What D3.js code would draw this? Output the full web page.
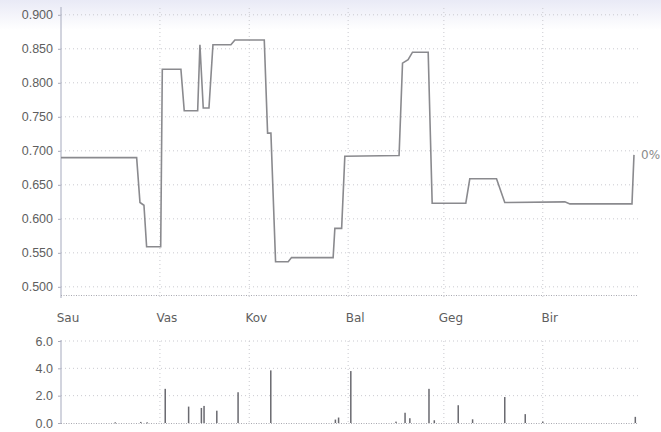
<!DOCTYPE html>
<html>
<head>
<meta charset="utf-8">
<script src="https://cdn.jsdelivr.net/npm/d3@7"></script>
<style>
  body { margin: 0; background: #fff; }
  svg { display: block; font-family: "DejaVu Sans", sans-serif; }
</style>
</head>
<body>
<div id="chart"></div>
<script>
// price line, breakpoints (date + hour)
var priceDates = ["2005-01-01 00","2005-01-24 17","2005-01-25 18","2005-01-27 00","2005-01-27 20","2005-02-01 06",
    "2005-02-01 18","2005-02-07 14","2005-02-08 15","2005-02-12 20","2005-02-13 13","2005-02-14 14",
    "2005-02-16 09","2005-02-17 15","2005-02-23 06","2005-02-24 12","2005-03-05 17","2005-03-06 18",
    "2005-03-07 19","2005-03-09 06","2005-03-13 05","2005-03-14 06","2005-03-27 07","2005-03-27 20",
    "2005-03-29 23","2005-03-30 23","2005-04-16 23","2005-04-18 01","2005-04-19 19","2005-04-21 04",
    "2005-04-26 02","2005-04-27 08","2005-05-07 21","2005-05-09 03","2005-05-17 12","2005-05-20 02",
    "2005-06-07 22","2005-06-09 12","2005-06-28 23","2005-06-29 14"];
var priceValues = [0.690,0.690,0.624,0.620,0.559,0.559,
    0.820,0.820,0.759,0.759,0.856,0.763,
    0.763,0.856,0.856,0.863,0.863,0.726,
    0.726,0.537,0.537,0.543,0.543,0.586,
    0.586,0.692,0.693,0.829,0.834,0.845,
    0.845,0.623,0.623,0.659,0.659,0.624,
    0.625,0.622,0.622,0.694];

// volume bars
var volDates = ["2005-01-18 00","2005-01-26 00","2005-01-28 00","2005-02-02 16","2005-02-10 00","2005-02-14 00",
    "2005-02-14 20","2005-02-18 20","2005-02-25 12","2005-03-07 18","2005-03-28 00","2005-03-29 00",
    "2005-04-01 20","2005-04-16 00","2005-04-18 20","2005-04-20 08","2005-04-26 08","2005-04-28 00",
    "2005-05-05 12","2005-05-10 00","2005-05-20 02","2005-05-26 12","2005-06-01 00","2005-06-30 00"];
var volValues = [0.05,0.08,0.05,2.5,1.2,1.1,
    1.25,0.9,2.25,3.85,0.25,0.4,
    3.8,0.1,0.75,0.35,2.5,0.2,
    1.3,0.27,1.9,0.65,0.1,0.45];

var monthLabels = ["Sau","Vas","Kov","Bal","Geg","Bir"];
var priceTicks = [0.5,0.55,0.6,0.65,0.7,0.75,0.8,0.85,0.9];
var volTicks = [0,2,4,6];
var changeLabel = "0%";

var W = 661, H = 432;
var parse = d3.timeParse("%Y-%m-%d %H");

var svg = d3.select("#chart").append("svg")
    .attr("width", W)
    .attr("height", H);

// faint scan tint at the top
var grad = svg.append("defs").append("linearGradient")
    .attr("id", "tint").attr("x1", 0).attr("y1", 0).attr("x2", 0).attr("y2", 1);
grad.append("stop").attr("offset", "0%").attr("stop-color", "#e9eaf6");
grad.append("stop").attr("offset", "100%").attr("stop-color", "#ffffff");
svg.append("rect").attr("width", W).attr("height", 30).attr("fill", "url(#tint)");

var x = d3.scaleTime()
    .domain([parse("2005-01-01 00"), parse("2005-07-01 00")])
    .range([61, 638.5]);
var monthTicks = d3.timeMonth.range(parse("2005-01-01 00"), parse("2005-07-01 00"));

var yP = d3.scaleLinear().domain([0.488, 0.910]).range([295, 8]);
var yV = d3.scaleLinear().domain([0, 6]).range([423, 341]);

var gridColor = "#c9c9cf";
var textColor = "#5e5e5e";

function grid(scale, ticks, y0, y1) {
    // horizontal dotted lines
    svg.append("g").selectAll("line")
        .data(ticks).enter().append("line")
        .attr("x1", 61).attr("x2", 638)
        .attr("y1", function(d) { return scale(d); })
        .attr("y2", function(d) { return scale(d); })
        .attr("stroke", gridColor)
        .attr("stroke-dasharray", "1,3");
    // vertical dotted lines at month starts
    svg.append("g").selectAll("line")
        .data(monthTicks.slice(1)).enter().append("line")
        .attr("x1", function(d) { return x(d); })
        .attr("x2", function(d) { return x(d); })
        .attr("y1", y0).attr("y2", y1)
        .attr("stroke", gridColor)
        .attr("stroke-dasharray", "1,3");
}

grid(yP, priceTicks, 8, 298);
grid(yV, volTicks.slice(1), 341, 423);

// y axes
function yAxis(scale, ticks, fmt, top, bottom) {
    var g = svg.append("g")
        .attr("transform", "translate(61,0)")
        .call(d3.axisLeft(scale).tickValues(ticks).tickFormat(d3.format(fmt)).tickSize(3).tickPadding(5));
    g.select(".domain").remove();
    g.selectAll(".tick line").attr("stroke", "#aaaab8");
    g.selectAll(".tick text").attr("fill", textColor).style("font-size", "12.5px");
    svg.append("line")
        .attr("x1", 61).attr("x2", 61)
        .attr("y1", top).attr("y2", bottom)
        .attr("stroke", "#b4b7c8")
        .attr("stroke-width", 1.2);
}
yAxis(yP, priceTicks, ".3f", 7, 298);
yAxis(yV, volTicks, ".1f", 340, 424);

// dotted baselines of both panels
[295.5, 423.5].forEach(function(yy) {
    svg.append("line")
        .attr("x1", 61).attr("x2", 638)
        .attr("y1", yy).attr("y2", yy)
        .attr("stroke", "#a8a8b0")
        .attr("stroke-dasharray", "1,1.5");
});

svg.append("g").selectAll("text")
    .data(monthTicks).enter().append("text")
    .attr("x", function(d) { return x(d) + 7; })
    .attr("y", 322)
    .attr("text-anchor", "middle")
    .attr("fill", textColor)
    .style("font-size", "12px")
    .text(function(d, i) { return monthLabels[i]; });

// price line
var priceData = priceDates.map(function(d, i) { return { date: parse(d), value: priceValues[i] }; });
var line = d3.line()
    .x(function(d) { return x(d.date); })
    .y(function(d) { return yP(d.value); });
svg.append("path")
    .datum(priceData)
    .attr("d", line)
    .attr("fill", "none")
    .attr("stroke", "#8a8a8e")
    .attr("stroke-width", 1.6);

svg.append("text")
    .attr("x", 641)
    .attr("y", 159)
    .attr("fill", "#8a8a8a")
    .style("font-size", "12px")
    .text(changeLabel);

// volume bars
var volData = volDates.map(function(d, i) { return { date: parse(d), value: volValues[i] }; });
svg.append("g").selectAll("rect")
    .data(volData).enter().append("rect")
    .attr("x", function(d) { return x(d.date) - 0.75; })
    .attr("width", 1.5)
    .attr("y", function(d) { return yV(d.value); })
    .attr("height", function(d) { return Math.max(1, yV(0) - yV(d.value)); })
    .attr("fill", "#6a6a70");
</script>
</body>
</html>
